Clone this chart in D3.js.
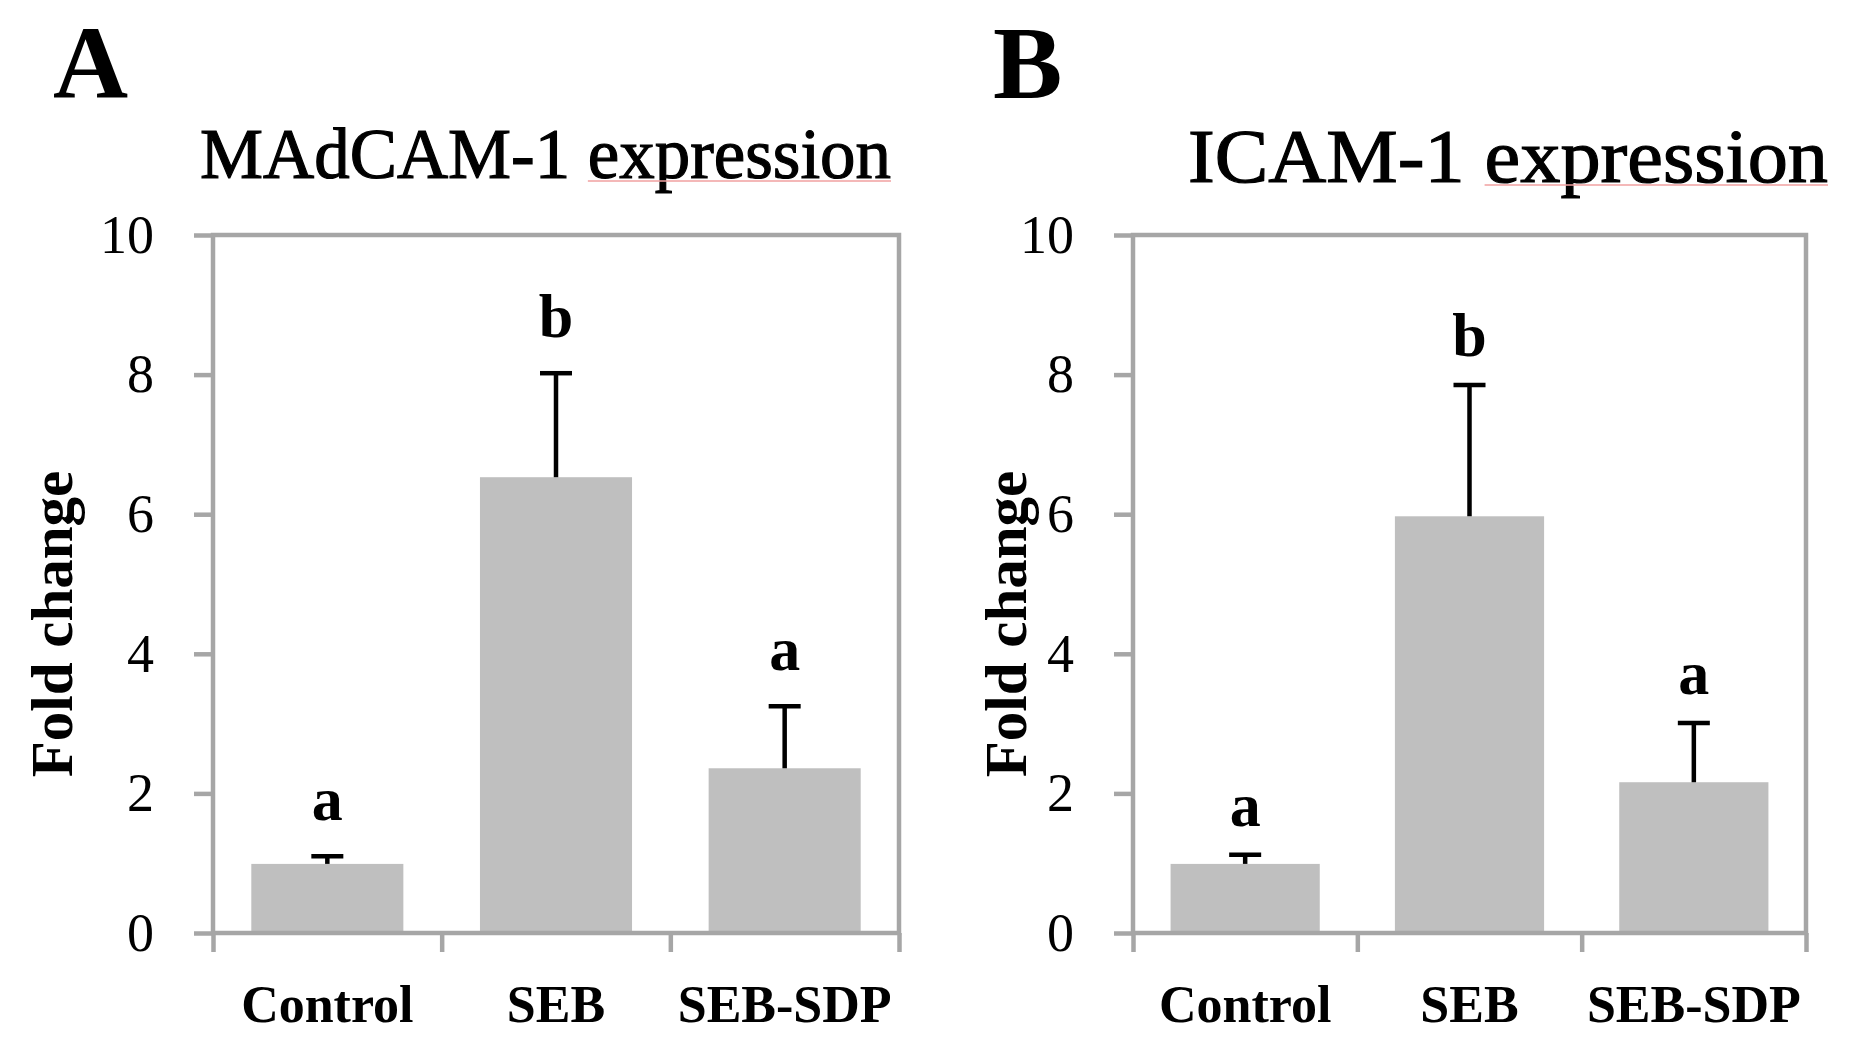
<!DOCTYPE html>
<html>
<head>
<meta charset="utf-8">
<script src="https://cdn.jsdelivr.net/npm/d3@7"></script>
<style>
  body { margin: 0; background: #fff; }
  svg { display: block; font-family: "Palatino Linotype", Palatino, "Book Antiqua", "Liberation Serif", serif; }
</style>
</head>
<body>
<div id="chart"></div>
<script>
// data
const categories = ["Control", "SEB", "SEB-SDP"];
const yTicks = [0, 2, 4, 6, 8, 10];

const madcamMeans = [0.99, 6.53, 2.36];
const madcamErrors = [0.11, 1.49, 0.89];
const madcamLetters = ["a", "b", "a"];

const icamMeans = [0.99, 5.97, 2.16];
const icamErrors = [0.13, 1.88, 0.85];
const icamLetters = ["a", "b", "a"];

const width = 1850,
  height = 1064,
  plotTop = 235,
  plotBottom = 933,
  gray = "#a6a6a6",
  barColor = "#bfbfbf";

const panels = [
  {
    tag: "A", title: "MAdCAM-1 ", word: "expression",
    means: madcamMeans, errors: madcamErrors, letters: madcamLetters,
    left: 213, right: 899, tagX: 53, titleX: 200, titleY: 178, titleSize: 71, titleW: 691,
    labelX: 72, letterGap: 36
  },
  {
    tag: "B", title: "ICAM-1 ", word: "expression",
    means: icamMeans, errors: icamErrors, letters: icamLetters,
    left: 1133, right: 1806, tagX: 993, titleX: 1188, titleY: 182, titleSize: 77, titleW: 640,
    labelX: 1026, letterGap: 29
  }
];

const svg = d3.select("#chart")
  .append("svg")
  .attr("width", width)
  .attr("height", height);

svg.append("rect").attr("width", width).attr("height", height).attr("fill", "#fff");

const yScale = d3.scaleLinear().domain([0, 10]).range([plotBottom, plotTop]);

panels.forEach(p => drawPanel(p));

function drawPanel(p) {
  const g = svg.append("g");
  const rows = categories.map((c, i) => ({
    cat: c, mean: p.means[i], err: p.errors[i], letter: p.letters[i]
  }));

  const xScale = d3.scaleBand()
    .domain(categories)
    .range([p.left, p.right])
    .paddingInner(0.335)
    .paddingOuter(0.1675);

  // panel tag
  g.append("text")
    .attr("x", p.tagX)
    .attr("y", 98)
    .attr("font-size", 104)
    .attr("font-weight", "bold")
    .text(p.tag);

  // title, with the spell-check underline on "expression"
  const title = g.append("text")
    .attr("x", p.titleX)
    .attr("y", p.titleY)
    .attr("font-size", p.titleSize)
    .attr("stroke", "#000")
    .attr("stroke-width", 1.2)
    .attr("textLength", p.titleW)
    .attr("lengthAdjust", "spacingAndGlyphs")
    .text(p.title + p.word);
  const node = title.node();
  const first = p.title.length;
  const last = p.title.length + p.word.length - 1;
  const x0 = node.getStartPositionOfChar(first).x;
  const x1 = node.getEndPositionOfChar(last).x;
  g.append("line")
    .attr("x1", x0).attr("x2", x1)
    .attr("y1", p.titleY + 3).attr("y2", p.titleY + 3)
    .attr("stroke", "#f0a0a0")
    .attr("stroke-width", 1.5);

  // bars
  g.selectAll(".bar")
    .data(rows)
    .join("rect")
    .attr("class", "bar")
    .attr("x", d => xScale(d.cat))
    .attr("width", xScale.bandwidth())
    .attr("y", d => yScale(d.mean))
    .attr("height", d => yScale(0) - yScale(d.mean))
    .attr("fill", barColor);

  // y axis ticks and labels
  const yAxis = d3.axisLeft(yScale)
    .tickValues(yTicks)
    .tickSize(19)
    .tickSizeOuter(0)
    .tickPadding(40);
  const ya = g.append("g")
    .attr("transform", `translate(${p.left},0)`)
    .call(yAxis)
    .attr("font-family", null)
    .attr("font-size", 54);
  ya.select(".domain").remove();
  ya.selectAll("line").attr("stroke", gray).attr("stroke-width", 4.5);
  ya.selectAll("text").attr("fill", "#000");

  // x axis boundary ticks
  const xEdges = d3.scaleLinear().domain([0, categories.length]).range([p.left, p.right]);
  const xa = g.append("g")
    .attr("transform", `translate(0,${plotBottom})`)
    .call(d3.axisBottom(xEdges).tickValues(d3.range(categories.length + 1)).tickSize(19).tickFormat(""));
  xa.select(".domain").remove();
  xa.selectAll("line").attr("stroke", gray).attr("stroke-width", 4.5);

  // category labels
  const xl = g.append("g")
    .attr("transform", `translate(0,${plotBottom})`)
    .call(d3.axisBottom(xScale).tickSize(0))
    .attr("font-family", null)
    .attr("font-size", 52)
    .attr("font-weight", "bold");
  xl.select(".domain").remove();
  xl.selectAll("text")
    .attr("y", 89)
    .attr("dy", 0)
    .attr("fill", "#000");

  // frame
  g.append("rect")
    .attr("x", p.left)
    .attr("y", plotTop)
    .attr("width", p.right - p.left)
    .attr("height", plotBottom - plotTop)
    .attr("fill", "none")
    .attr("stroke", gray)
    .attr("stroke-width", 4.5);

  // error bars (upper only)
  const cap = 16;
  const eb = g.selectAll(".err")
    .data(rows)
    .join("g")
    .attr("class", "err")
    .attr("stroke", "#000")
    .attr("stroke-width", 4.5);
  eb.append("line")
    .attr("x1", d => xScale(d.cat) + xScale.bandwidth() / 2)
    .attr("x2", d => xScale(d.cat) + xScale.bandwidth() / 2)
    .attr("y1", d => yScale(d.mean))
    .attr("y2", d => yScale(d.mean + d.err));
  eb.append("line")
    .attr("x1", d => xScale(d.cat) + xScale.bandwidth() / 2 - cap)
    .attr("x2", d => xScale(d.cat) + xScale.bandwidth() / 2 + cap)
    .attr("y1", d => yScale(d.mean + d.err))
    .attr("y2", d => yScale(d.mean + d.err));

  // significance letters
  g.selectAll(".letter")
    .data(rows)
    .join("text")
    .attr("class", "letter")
    .attr("x", d => xScale(d.cat) + xScale.bandwidth() / 2)
    .attr("y", d => yScale(d.mean + d.err) - p.letterGap)
    .attr("text-anchor", "middle")
    .attr("font-size", 62)
    .attr("font-weight", "bold")
    .text(d => d.letter);

  // y axis label
  g.append("text")
    .attr("transform", `translate(${p.labelX},${(plotTop + plotBottom) / 2 + 40}) rotate(-90)`)
    .attr("text-anchor", "middle")
    .attr("font-size", 59)
    .attr("font-weight", "bold")
    .text("Fold change");
}
</script>
</body>
</html>
